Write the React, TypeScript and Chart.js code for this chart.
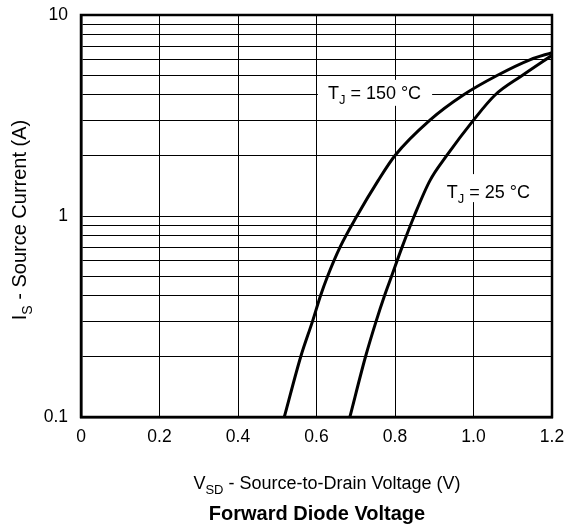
import { useEffect, useRef } from 'react';
import { Chart, registerables } from 'chart.js';

Chart.register(...registerables);

// Forward diode characteristic
const V_150 = [0.518, 0.56, 0.59, 0.61, 0.628, 0.66, 0.703, 0.757, 0.8, 0.889, 0.974, 1.06, 1.145, 1.2];
const I_150 = [0.1, 0.2, 0.3, 0.4, 0.5, 0.7, 1.0, 1.5, 2.0, 3.0, 4.0, 5.0, 6.0, 6.5];

const V_25 = [0.685, 0.725, 0.752, 0.773, 0.791, 0.818, 0.849, 0.889, 0.932, 1.0, 1.055, 1.124, 1.2];
const I_25 = [0.1, 0.2, 0.3, 0.4, 0.5, 0.7, 1.0, 1.5, 2.0, 3.0, 4.0, 5.0, 6.3];

const X_TICKS = [0, 0.2, 0.4, 0.6, 0.8, 1.0, 1.2];
const X_TICK_LABELS = ['0', '0.2', '0.4', '0.6', '0.8', '1.0', '1.2'];

const Y_GRID = [0.1, 0.2, 0.3, 0.4, 0.5, 0.6, 0.7, 0.8, 0.9, 1, 2, 3, 4, 5, 6, 7, 8, 9, 10];
const Y_LABELED = [0.1, 1, 10];
const Y_LABELS = ['0.1', '1', '10'];

const FAMILY = "'Liberation Sans', Arial, Helvetica, sans-serif";

type Part = { t: string; sub?: boolean };

function drawRich(
  ctx: CanvasRenderingContext2D,
  parts: Part[],
  x: number,
  y: number,
  size: number,
  bold: boolean,
  align: 'left' | 'center'
) {
  const subSize = Math.round(size * 0.72);
  const fontOf = (sub?: boolean) => `${bold ? 'bold ' : ''}${sub ? subSize : size}px ${FAMILY}`;
  const widths = parts.map((p) => {
    ctx.font = fontOf(p.sub);
    return ctx.measureText(p.t).width;
  });
  const total = widths.reduce((a, b) => a + b, 0);
  let cx = align === 'center' ? x - total / 2 : x;
  const baseline = y + (size * 0.716) / 2;
  ctx.textBaseline = 'alphabetic';
  ctx.textAlign = 'left';
  ctx.fillStyle = '#000';
  parts.forEach((p, i) => {
    ctx.font = fontOf(p.sub);
    ctx.fillText(p.t, cx, baseline + (p.sub ? size * 0.28 : 0));
    cx += widths[i];
  });
  return total;
}

function measureRich(ctx: CanvasRenderingContext2D, parts: Part[], size: number) {
  const subSize = Math.round(size * 0.72);
  let total = 0;
  parts.forEach((p) => {
    ctx.font = `${p.sub ? subSize : size}px ${FAMILY}`;
    total += ctx.measureText(p.t).width;
  });
  return total;
}

export default function App() {
  const ref = useRef<HTMLCanvasElement>(null);

  useEffect(() => {
    const canvas = ref.current;
    if (!canvas) return;

    const label150: Part[] = [{ t: 'T' }, { t: 'J', sub: true }, { t: ' = 150 °C' }];
    const label25: Part[] = [{ t: 'T' }, { t: 'J', sub: true }, { t: ' = 25 °C' }];

    const textPlugin = {
      id: 'texts',
      beforeDatasetsDraw(chart: any) {
        const ctx: CanvasRenderingContext2D = chart.ctx;
        const xs = chart.scales.x;
        const ys = chart.scales.y;
        ctx.save();
        // label TJ = 150 °C
        {
          const lx = xs.getPixelForValue(0.629);
          const ly = ys.getPixelForValue(4.1);
          const w = measureRich(ctx, label150, 18);
          ctx.fillStyle = '#fff';
          ctx.fillRect(lx - 10, ly - 13, w + 21, 26);
          drawRich(ctx, label150, lx, ly, 18, false, 'left');
        }
        // label TJ = 25 °C
        {
          const lx = xs.getPixelForValue(0.932);
          const ly = ys.getPixelForValue(1.33);
          const w = measureRich(ctx, label25, 18);
          ctx.fillStyle = '#fff';
          ctx.fillRect(lx - 9, ly - 17, w + 14, 28);
          drawRich(ctx, label25, lx, ly, 18, false, 'left');
        }
        ctx.restore();
      },
      afterDatasetsDraw(chart: any) {
        const ctx: CanvasRenderingContext2D = chart.ctx;
        const a = chart.chartArea;
        ctx.save();
        ctx.strokeStyle = '#000';
        ctx.lineWidth = 2.5;
        ctx.strokeRect(a.left, a.top, a.right - a.left, a.bottom - a.top);
        ctx.restore();
      },
      afterDraw(chart: any) {
        const ctx: CanvasRenderingContext2D = chart.ctx;
        ctx.save();
        drawRich(
          ctx,
          [{ t: 'V' }, { t: 'SD', sub: true }, { t: ' - Source-to-Drain Voltage (V)' }],
          327,
          483,
          18,
          false,
          'center'
        );
        drawRich(ctx, [{ t: 'Forward Diode Voltage' }], 317, 512.5, 20, true, 'center');
        ctx.translate(19, 220);
        ctx.rotate(-Math.PI / 2);
        drawRich(ctx, [{ t: 'I' }, { t: 'S', sub: true }, { t: ' - Source Current (A)' }], 0, 0, 20, false, 'center');
        ctx.restore();
      },
    };

    const tickFont = { family: FAMILY, size: 17.5 };

    const chart = new Chart(canvas, {
      type: 'scatter',
      data: {
        datasets: [
          {
            label: 'TJ = 150 °C',
            data: V_150.map((v, i) => ({ x: v, y: I_150[i] })),
            showLine: true,
            borderColor: '#000',
            borderWidth: 3,
            pointRadius: 0,
            cubicInterpolationMode: 'monotone',
          },
          {
            label: 'TJ = 25 °C',
            data: V_25.map((v, i) => ({ x: v, y: I_25[i] })),
            showLine: true,
            borderColor: '#000',
            borderWidth: 3,
            pointRadius: 0,
            cubicInterpolationMode: 'monotone',
          },
        ],
      },
      options: {
        animation: false,
        responsive: false,
        devicePixelRatio: 1,
        layout: { padding: { left: 0, right: 19, top: 15, bottom: 0 } },
        plugins: {
          legend: { display: false },
          tooltip: { enabled: false },
        },
        scales: {
          x: {
            type: 'linear',
            min: 0,
            max: 1.2,
            afterBuildTicks: (s: any) => {
              s.ticks = X_TICKS.map((v) => ({ value: v }));
            },
            afterFit: (s: any) => {
              s.height = 110;
              s.paddingLeft = 0;
              s.paddingRight = 0;
              s.paddingTop = 0;
              s.paddingBottom = 0;
            },
            ticks: {
              callback: (_v: any, i: number) => X_TICK_LABELS[i],
              font: tickFont,
              color: '#000',
              padding: 10,
              maxRotation: 0,
              autoSkip: false,
            },
            grid: { color: '#000', lineWidth: 1, drawTicks: false },
            border: { display: true, color: '#000', width: 2.5 },
          },
          y: {
            type: 'logarithmic',
            min: 0.1,
            max: 10,
            afterBuildTicks: (s: any) => {
              s.ticks = Y_GRID.map((v) => ({ value: v }));
            },
            afterFit: (s: any) => {
              s.width = 81;
              s.paddingLeft = 0;
              s.paddingRight = 0;
              s.paddingTop = 0;
              s.paddingBottom = 0;
            },
            ticks: {
              callback: (v: any) => {
                const i = Y_LABELED.findIndex((t) => Math.abs(t - Number(v)) < 1e-9);
                return i >= 0 ? Y_LABELS[i] : '';
              },
              font: tickFont,
              color: '#000',
              padding: 13,
              autoSkip: false,
            },
            grid: { color: '#000', lineWidth: 1, drawTicks: false },
            border: { display: true, color: '#000', width: 2.5 },
          },
        },
      },
      plugins: [textPlugin],
    });

    return () => chart.destroy();
  }, []);

  return (
    <div style={{ position: 'absolute', left: 0, top: 0, width: 571, height: 527, background: '#fff' }}>
      <canvas ref={ref} width={571} height={527} style={{ display: 'block', width: 571, height: 527 }} />
    </div>
  );
}
